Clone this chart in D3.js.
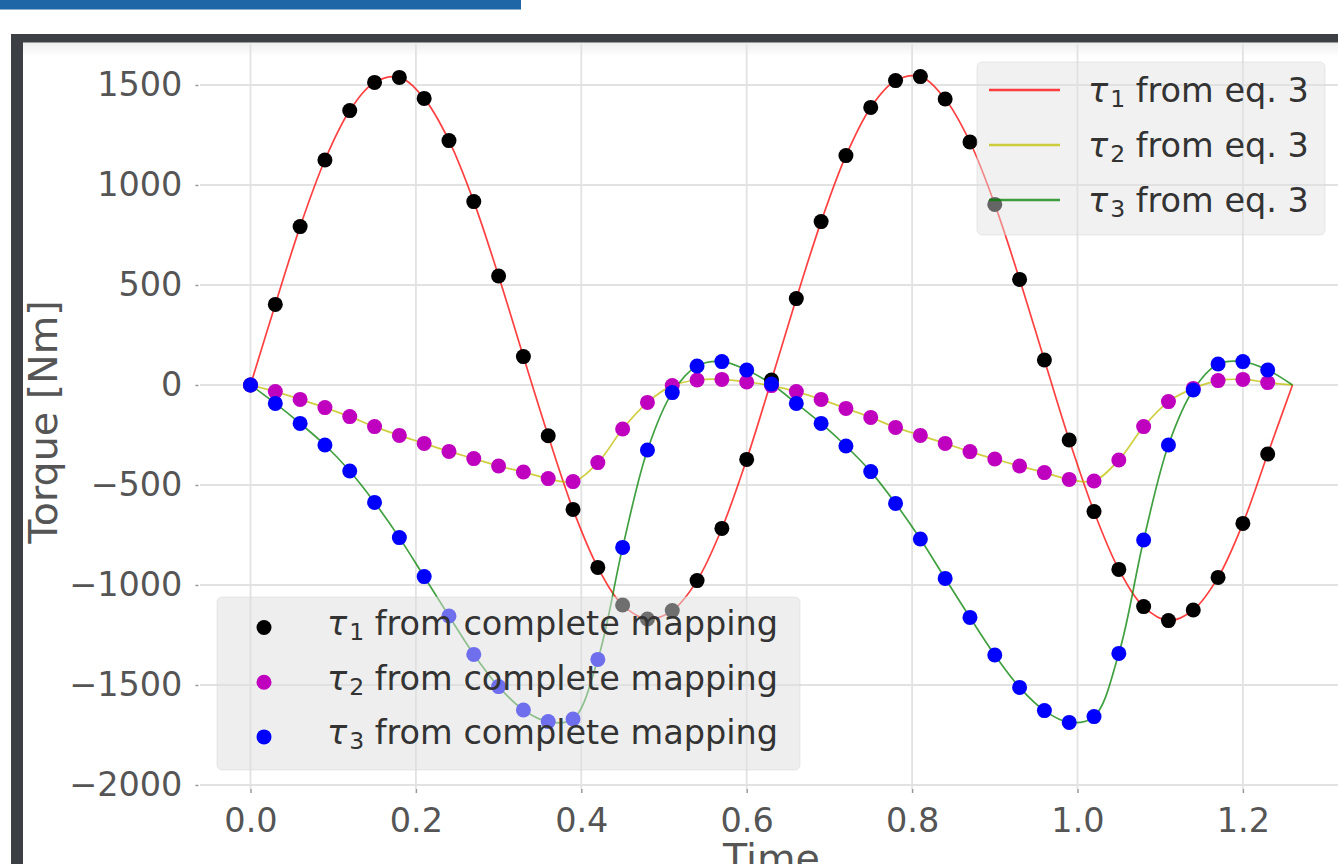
<!DOCTYPE html>
<html>
<head>
<meta charset="utf-8">
<script src="https://cdn.jsdelivr.net/npm/d3@7"></script>
<style>
  body { margin: 0; background: #fff; }
  svg { display: block; font-family: "DejaVu Sans", sans-serif; }
</style>
</head>
<body>
<div id="chart"></div>
<script>
// sample times of the "complete mapping" points
const time = [0, 0.03, 0.06, 0.09, 0.12, 0.15, 0.18, 0.21, 0.24, 0.27, 0.30, 0.33, 0.36, 0.39,
  0.42, 0.45, 0.48, 0.51, 0.54, 0.57, 0.60, 0.63, 0.66, 0.69, 0.72, 0.75, 0.78, 0.81, 0.84,
  0.87, 0.90, 0.93, 0.96, 0.99, 1.02, 1.05, 1.08, 1.11, 1.14, 1.17, 1.20, 1.23];

const tau1 = [0, 403, 792, 1125, 1372, 1513, 1538, 1433, 1222, 917, 545, 142, -254, -622,
  -912, -1100, -1170, -1128, -978, -717, -372, 25, 432, 817, 1147, 1388, 1522, 1542, 1430,
  1215, 903, 528, 125, -275, -633, -922, -1108, -1178, -1125, -962, -692, -345];

const tau2 = [0, -33, -72, -113, -158, -208, -252, -292, -332, -368, -405, -435, -468, -483,
  -388, -220, -87, -3, 25, 28, 15, -3, -33, -72, -117, -162, -212, -252, -292,
  -333, -370, -405, -438, -472, -480, -375, -208, -83, -17, 22, 28, 12];

const tau3 = [0, -92, -192, -300, -430, -587, -763, -958, -1155, -1347, -1508, -1625, -1683, -1670,
  -1372, -812, -325, -38, 95, 117, 75, 5, -92, -192, -305, -433, -592, -770, -967,
  -1162, -1350, -1512, -1628, -1687, -1658, -1342, -775, -300, -25, 105, 117, 75];

// the eq. 3 curves run on to this last time, where they all come back to zero
const tEnd = 1.26;
const eq3End = [0, 0, 0];

const xTicks = [0.0, 0.2, 0.4, 0.6, 0.8, 1.0, 1.2];
const yTicks = [-2000, -1500, -1000, -500, 0, 500, 1000, 1500];

const subs = ['1', '2', '3'];
const lineColors = ['#ff0000', '#bfbf00', '#008000'];
const dotColors = ['#000000', '#bf00bf', '#0000ff'];

const W = 1338, H = 864;
const svg = d3.select('#chart').append('svg')
  .attr('width', W)
  .attr('height', H);

// page chrome: blue strip and dark window frame
svg.append('rect').attr('x', 0).attr('y', 0).attr('width', 521).attr('height', 9.5).attr('fill', '#1e66a5');
svg.append('rect').attr('x', 11).attr('y', 34).attr('width', W - 11).attr('height', H - 34).attr('fill', '#3c4044');
svg.append('rect').attr('x', 23).attr('y', 42.5).attr('width', W - 23).attr('height', H - 42.5).attr('fill', '#fff');

const defs = svg.append('defs');
const grad = defs.append('linearGradient').attr('id', 'shade').attr('x1', 0).attr('x2', 0).attr('y1', 0).attr('y2', 1);
grad.append('stop').attr('offset', '0%').attr('stop-color', '#000').attr('stop-opacity', 0.07);
grad.append('stop').attr('offset', '100%').attr('stop-color', '#000').attr('stop-opacity', 0);
svg.append('rect').attr('x', 23).attr('y', 42.5).attr('width', W - 23).attr('height', 14).attr('fill', 'url(#shade)');

// scales
const plotTop = 44, plotBottom = 789, plotLeft = 198.4, plotRight = 1344.6;
const x = d3.scaleLinear().domain([-0.063, 1.323]).range([plotLeft, plotRight]);
const y = d3.scaleLinear().domain([-2020, 1705]).range([plotBottom, plotTop]);

// grid
const grid = svg.append('g');
grid.selectAll('.gy').data(yTicks).enter().append('line')
  .attr('x1', 200).attr('x2', W)
  .attr('y1', d => y(d)).attr('y2', d => y(d))
  .attr('stroke', '#e2e2e2').attr('stroke-width', 1.8);
grid.selectAll('.gx').data(xTicks).enter().append('line')
  .attr('x1', d => x(d)).attr('x2', d => x(d))
  .attr('y1', plotTop).attr('y2', plotBottom)
  .attr('stroke', '#e2e2e2').attr('stroke-width', 1.8);

// axes
const yAxis = svg.append('g')
  .attr('transform', `translate(${plotLeft},0)`)
  .call(d3.axisLeft(y).tickValues(yTicks).tickSize(3).tickPadding(13).tickFormat(d3.format('d')));
const xAxis = svg.append('g')
  .attr('transform', `translate(0,${plotBottom})`)
  .call(d3.axisBottom(x).tickValues(xTicks).tickSize(4).tickPadding(15).tickFormat(d3.format('.1f')));
[xAxis, yAxis].forEach(a => {
  a.select('.domain').remove();
  a.selectAll('.tick line').attr('stroke', '#999').attr('stroke-width', 1.5);
  a.selectAll('.tick text').attr('fill', '#555').attr('font-size', 33.5).attr('font-family', '"DejaVu Sans", sans-serif');
});

svg.append('text')
  .attr('x', x(0.63)).attr('y', 872)
  .attr('text-anchor', 'middle')
  .attr('font-size', 39.6).attr('fill', '#555')
  .text('Time');
svg.append('text')
  .attr('transform', 'translate(57,422) rotate(-90)')
  .attr('text-anchor', 'middle')
  .attr('font-size', 39.6).attr('fill', '#555')
  .text('Torque [Nm]');

// eq. 3 curves
const series = [tau1, tau2, tau3];
const line = d3.line()
  .x(d => x(d[0]))
  .y(d => y(d[1]))
  .curve(d3.curveCatmullRom.alpha(0.5));

series.forEach((vals, i) => {
  const pts = time.map((t, j) => [t, vals[j]]).concat([[tEnd, eq3End[i]]]);
  svg.append('path')
    .datum(pts)
    .attr('d', line)
    .attr('fill', 'none')
    .attr('stroke', lineColors[i])
    .attr('stroke-opacity', 0.75)
    .attr('stroke-width', 1.7);
});

// complete mapping points
series.forEach((vals, i) => {
  svg.append('g').selectAll('circle')
    .data(time.map((t, j) => [t, vals[j]]))
    .enter().append('circle')
    .attr('cx', d => x(d[0]))
    .attr('cy', d => y(d[1]))
    .attr('r', 7.5)
    .attr('fill', dotColors[i]);
});

// legend label: italic tau, subscript, then text
function addLabel(g, lx, ly, sub, rest) {
  const t = g.append('text')
    .attr('x', lx).attr('y', ly)
    .attr('font-size', 33.5).attr('fill', '#333');
  t.append('tspan').attr('font-style', 'italic').text('\u03c4');
  t.append('tspan').attr('font-size', 23.5).attr('dy', 5).attr('dx', 2).text(sub);
  t.append('tspan').attr('dy', -5).text(' ' + rest);
}

// top-right legend (lines)
const leg1 = svg.append('g');
leg1.append('rect')
  .attr('x', 977).attr('y', 62).attr('width', 348).attr('height', 173).attr('rx', 5)
  .attr('fill', '#e0e0e0').attr('fill-opacity', 0.45)
  .attr('stroke', '#d0d0d0').attr('stroke-opacity', 0.4);
subs.forEach((s, i) => {
  const ry = 90 + i * 55;
  leg1.append('line')
    .attr('x1', 989).attr('x2', 1060).attr('y1', ry).attr('y2', ry)
    .attr('stroke', lineColors[i]).attr('stroke-opacity', 0.75).attr('stroke-width', 2.7);
  addLabel(leg1, 1088, ry + 11.5, s, 'from eq. 3');
});

// bottom-left legend (points)
const leg2 = svg.append('g');
leg2.append('rect')
  .attr('x', 217).attr('y', 597).attr('width', 583).attr('height', 173).attr('rx', 5)
  .attr('fill', '#dedede').attr('fill-opacity', 0.5)
  .attr('stroke', '#d0d0d0').attr('stroke-opacity', 0.4);
subs.forEach((s, i) => {
  const ry = 627.5 + i * 54.7;
  leg2.append('circle')
    .attr('cx', 264).attr('cy', ry).attr('r', 7.5)
    .attr('fill', dotColors[i]);
  addLabel(leg2, 327, ry + 7.5, s, 'from complete mapping');
});
</script>
</body>
</html>
